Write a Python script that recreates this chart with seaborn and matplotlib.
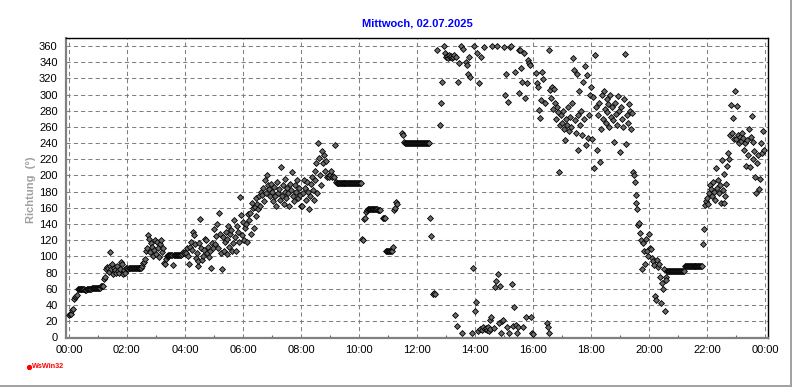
import numpy as np
import pandas as pd
import matplotlib
matplotlib.use("Agg")
import matplotlib.pyplot as plt
import seaborn as sns
from matplotlib.lines import Line2D
from matplotlib.ticker import MultipleLocator, FixedLocator, FixedFormatter

nan = np.nan

# Wind direction (degrees), one value every 2 minutes, one list per hour
H00 = [28, 29, 29, 34, 35, 47, 50, 51, 52, 59, 60, 60, 60, 60, 60, 59, 59, 58, 58, 59,
       60, 60, 60, 60, 61, 61, 61, 61, 61, 61]
H01 = [61, 61, 61, 63, 63, 63, 72, 75, 84, 87, 85, 81, 88, 105, 84, 91, 78, 86, 83, 80,
       88, 82, 79, 84, 93, 90, 78, 83, 80, 86]
H02 = [85, 84, 86, 85, 85, 85, 85, 85, 85, 85, 85, 85, 85, 85, 85, 86, 88, 92, 93, 97,
       106, 110, 126, 122, 105, 116, 112, 101, 108, 120]
H03 = [103, 118, 110, 99, 115, 120, 105, 110, 92, 91, 97, 100, 101, 102, 102, 102, 102, 102, 89, 102,
       102, 102, 102, 102, 102, 102, 102, 103, 105, 104]
H04 = [105, 104, 110, 100, 90, 112, 118, 108, 130, 126, 115, 98, 104, 88, 94, 116, 146, 110, 96, 100,
       108, 121, 120, 104, 112, 99, 106, 85, 117, 110]
H05 = [134, 115, 125, 140, 110, 154, 128, 104, 84, 124, 107, 118, 130, 103, 122, 138, 112, 127, 132, 106,
       116, 145, 124, 107, 137, 130, 118, 173, 151, 126]
H06 = [143, 120, 135, 140, 118, 152, 145, 154, 128, 166, 160, 135, 161, 150, 172, 165, 158, 174, 162, 180,
       176, 185, 168, 195, 178, 200, 188, 183, 175, 190]
H07 = [180, 168, 186, 175, 162, 192, 178, 183, 170, 210, 175, 188, 165, 180, 196, 172, 185, 178, 162, 190,
       182, 204, 175, 168, 188, 180, 195, 172, 184, 176]
H08 = [162, 162, 178, 195, 185, 170, 192, 180, 158, 175, 190, 198, 182, 170, 205, 195, 215, 178, 240, 222,
       200, 188, 230, 215, 225, 205, 218, 198, 199, 198]
H09 = [200, 206, 198, 199, 198, 238, 192, 191, 191, 191, 191, 191, 191, 191, 191, 191, 191, 191, 191, 191,
       191, 191, 191, 191, 191, 191, 191, 191, 191, 191]
H10 = [191, 191, 191, 121, 120, 146, 147, 155, 157, 158, 158, 158, 158, 158, 158, 158, 158, 158, 158, 158,
       157, 157, 157, nan, nan, 148, 147, 147, 107, 107]
H11 = [107, 107, 107, 107, 107, 111, 157, 160, 167, 165, nan, nan, nan, nan, nan, 252, 250, 241, 240, 240,
       240, 240, 240, 240, 240, 240, 240, 240, 240, 240]
H12 = [240, 240, 240, 240, 240, 240, 240, 240, 240, 240, 240, 240, 240, 147, 125, nan, nan, 54, 55, 53,
       nan, 355, nan, nan, 262, 290, 316, nan, 360, 352]
H13 = [347, 348, 345, 349, 346, 348, 345, 347, 349, 28, 347, 14, 316, 339, nan, nan, 360, 5, 356, nan,
       nan, 340, 336, 326, 347, 322, nan, 5, 85, 360]
H14 = [33, 44, 351, 8, 314, 10, 347, 9, 12, 359, 10, 11, 9, 12, 8, 21, 10, 25, 360, nan,
       11, 62, 70, 360, 78, 17, 63, 5, 20, 21]
H15 = [359, 300, 326, 12, 291, 5, 359, 360, 66, 14, 37, 328, 15, 5, 12, 355, 302, 355, 333, 316,
       12, 351, 296, 25, 314, 343, 339, 336, 25, 5]
H16 = [4, nan, nan, 327, 314, 310, 281, 271, 293, 328, 319, nan, 290, nan, 17, 12, 5, 355, 306, 296,
       309, 282, 307, 290, 270, 285, 278, 204, 262, 275]
H17 = [265, 280, 258, 244, 270, 262, 285, 255, 272, 260, 290, 345, 330, 268, 252, 325, 275, 231, 304, 262,
       280, 250, 315, 270, 335, 238, 324, 246, 275, 300]
H18 = [310, 245, 297, 209, 349, 285, 231, 275, 290, 217, 257, 300, 270, 305, 282, 265, 295, 278, 288, 260,
       300, 272, 285, 268, 241, 290, 276, 262, 298, 280]
H19 = [229, 285, 270, 260, 295, 350, 239, 275, 265, 288, 280, 258, 277, 204, 200, 192, 176, 166, 158, 139,
       141, 129, 120, 84, 116, 106, 91, 122, 106, 101]
H20 = [128, 110, 109, 98, 94, 89, 51, 46, 95, 87, 91, 74, 42, 67, 59, 84, 33, 75, 71, 82,
       82, 82, 82, 82, 82, 82, 82, 82, 82, 82]
H21 = [82, 82, 82, 82, 82, 82, 82, 88, 88, 88, 88, 88, 88, 88, 88, 88, 88, 88, 88, 88,
       88, 88, 88, 88, 88, 88, 115, 134, 163, 168]
H22 = [172, 165, 178, 188, 183, 175, 192, 180, 170, 209, 185, 195, 178, 188, 166, 219, 182, 202, 166, 175,
       190, 212, 228, 220, 250, 287, 252, 271, 245, 304]
H23 = [245, 286, 250, 240, 248, 243, 252, 246, 231, 240, 212, 244, 225, 258, 210, 248, 273, 220, 242, 230,
       198, 178, 215, 225, 183, 196, 240, 228, 255, 232]

HOURLY = [H00, H01, H02, H03, H04, H05, H06, H07, H08, H09, H10, H11,
          H12, H13, H14, H15, H16, H17, H18, H19, H20, H21, H22, H23]
SAMPLE_MINUTES = 2

TITLE = "Mittwoch, 02.07.2025"
YLABEL = "Richtung  (°)"
XTICK_POS = [0, 2, 4, 6, 8, 10, 12, 14, 16, 18, 20, 22, 24]
XTICK_LABELS = ["00:00", "02:00", "04:00", "06:00", "08:00", "10:00", "12:00",
                "14:00", "16:00", "18:00", "20:00", "22:00", "00:00"]
WATERMARK = "WsWin32"

hours, dirs = [], []
for hr, vals in enumerate(HOURLY):
    for i, v in enumerate(vals):
        hours.append(hr + i * SAMPLE_MINUTES / 60.0)
        dirs.append(v)
df = pd.DataFrame({"Stunde": hours, "Richtung": dirs}).dropna()

sns.set_style("white")
plt.rcParams["font.family"] = ["Liberation Sans", "DejaVu Sans"]

W, H = 792, 387
fig = plt.figure(figsize=(W / 100, H / 100), dpi=100)
fig.patch.set_facecolor("white")
ax = fig.add_axes([66 / W, 1 - 338 / H, (768 - 66) / W, (338 - 38) / H])

sns.scatterplot(data=df, x="Stunde", y="Richtung", marker="D", s=9,
                color="#6a6a6a", edgecolor="black", linewidth=0.6, ax=ax, zorder=3)

ax.set_xlim(-0.1, 24.1)
ax.set_ylim(-1, 370)
ax.xaxis.set_major_locator(FixedLocator(XTICK_POS))
ax.xaxis.set_major_formatter(FixedFormatter(XTICK_LABELS))
ax.xaxis.set_minor_locator(MultipleLocator(1))
ax.yaxis.set_major_locator(MultipleLocator(20))
ax.set_xlabel("")
ax.set_ylabel("")

ax.grid(True, which="major", color="#808080", linestyle=(0, (4, 3)), linewidth=0.75)
ax.set_axisbelow(True)

for side in ["top", "right"]:
    ax.spines[side].set_color("black")
    ax.spines[side].set_linewidth(1.0)
for side in ["left", "bottom"]:
    ax.spines[side].set_color("#808080")
    ax.spines[side].set_linewidth(1.6)

ax.tick_params(axis="y", which="major", direction="out", length=3.5, width=0.8,
               color="#606060", labelsize=8, pad=2.5, labelcolor="black")
ax.tick_params(axis="x", which="major", direction="in", length=3, width=0.8,
               color="#606060", labelsize=8, pad=5, labelcolor="black")
ax.tick_params(axis="x", which="minor", direction="in", length=2.5, width=0.8,
               color="#606060", bottom=True)

fig.text(417 / W, 1 - 23 / H, TITLE, color="#0000ff", fontweight="bold",
         fontsize=8, ha="center", va="center")
fig.text(31 / W, 1 - 190 / H, YLABEL, color="#a0a0a0", fontweight="bold",
         fontsize=8, rotation=90, ha="center", va="center")

fig.add_artist(Line2D([29 / W], [1 - 367 / H], marker="o", markersize=2.8,
                      markerfacecolor="red", markeredgecolor="red",
                      linestyle="none", transform=fig.transFigure))
fig.text(32 / W, 1 - 367 / H, WATERMARK, color="red", fontweight="bold",
         fontsize=5.2, ha="left", va="center")

fig.add_artist(Line2D([790.5 / W, 790.5 / W], [0, 1], color="#a0a0a0",
                      linewidth=1.4, transform=fig.transFigure))
fig.add_artist(Line2D([0, 1], [1 - 386 / H, 1 - 386 / H], color="#a0a0a0",
                      linewidth=1.4, transform=fig.transFigure))

fig.savefig("out.png", dpi=100, facecolor="white")
